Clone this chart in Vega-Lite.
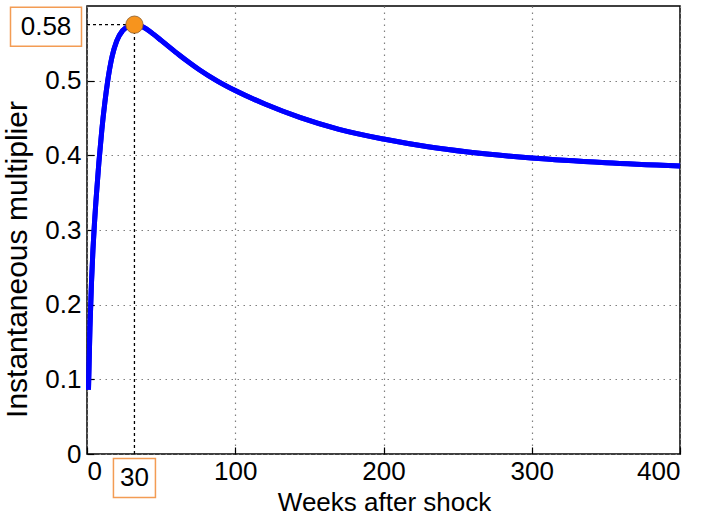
{
  "$schema": "https://vega.github.io/schema/vega-lite/v6.json",
  "width": 593,
  "height": 448,
  "autosize": "none",
  "padding": {"left": 87, "top": 6, "right": 27, "bottom": 60},
  "background": "white",
  "config": {
    "font": "Liberation Sans",
    "view": {"stroke": "black", "strokeWidth": 1.5},
    "axis": {
      "labelFont": "Liberation Sans",
      "titleFont": "Liberation Sans",
      "labelColor": "black",
      "titleColor": "black",
      "titleFontWeight": "normal",
      "labelFontSize": 26,
      "titleFontSize": 27,
      "domain": false,
      "tickColor": "black",
      "tickSize": -7,
      "tickWidth": 1.2,
      "gridColor": "#808080",
      "gridDash": [1.5, 4.5],
      "gridWidth": 1.2,
      "gridOpacity": 1
    }
  },
  "datasets": {
    "curve": [
      {"weeks": 1, "mult": 0.086},
      {"weeks": 2, "mult": 0.17},
      {"weeks": 3, "mult": 0.228},
      {"weeks": 4, "mult": 0.273},
      {"weeks": 5, "mult": 0.308},
      {"weeks": 6, "mult": 0.338},
      {"weeks": 8, "mult": 0.39},
      {"weeks": 10, "mult": 0.434},
      {"weeks": 12, "mult": 0.47},
      {"weeks": 14, "mult": 0.5},
      {"weeks": 17, "mult": 0.533},
      {"weeks": 20, "mult": 0.553},
      {"weeks": 24, "mult": 0.567},
      {"weeks": 28, "mult": 0.573},
      {"weeks": 32, "mult": 0.575},
      {"weeks": 36, "mult": 0.5735},
      {"weeks": 40, "mult": 0.5695},
      {"weeks": 45, "mult": 0.562},
      {"weeks": 50, "mult": 0.554},
      {"weeks": 56, "mult": 0.5443},
      {"weeks": 62, "mult": 0.5348},
      {"weeks": 68, "mult": 0.5257},
      {"weeks": 76, "mult": 0.5143},
      {"weeks": 88, "mult": 0.4994},
      {"weeks": 100, "mult": 0.4867},
      {"weeks": 120, "mult": 0.4687},
      {"weeks": 144, "mult": 0.4505},
      {"weeks": 170, "mult": 0.4348},
      {"weeks": 200, "mult": 0.4218},
      {"weeks": 230, "mult": 0.4115},
      {"weeks": 257, "mult": 0.4045},
      {"weeks": 300, "mult": 0.3965},
      {"weeks": 350, "mult": 0.3902},
      {"weeks": 400, "mult": 0.3858}
    ],
    "peak": [
      {"weeks": 32, "mult": 0.575, "zero": 0, "weekLabel": "30", "multLabel": "0.58"}
    ]
  },
  "layer": [
    {
      "data": {"name": "curve"},
      "mark": {"type": "line", "color": "#0000ff", "strokeWidth": 5, "interpolate": "monotone"},
      "encoding": {
        "x": {
          "field": "weeks", "type": "quantitative",
          "scale": {"domain": [0, 400]},
          "axis": {
            "orient": "bottom",
            "values": [0, 100, 200, 300, 400],
            "title": "Weeks after shock",
            "labelPadding": 11,
            "titleX": 297, "titleY": 56,
            "titleAlign": "center",
            "titleBaseline": "alphabetic",
            "titleFontSize": 26
          }
        },
        "y": {
          "field": "mult", "type": "quantitative",
          "scale": {"domain": [0, 0.6]},
          "axis": {
            "orient": "left",
            "values": [0, 0.1, 0.2, 0.3, 0.4, 0.5],
            "format": ".1~f",
            "title": "Instantaneous multiplier",
            "labelPadding": 13,
            "titleX": -61, "titleY": 253,
            "titleAngle": -90,
            "titleAlign": "center",
            "titleBaseline": "alphabetic",
            "titleFontSize": 30
          }
        }
      }
    },
    {
      "data": {"name": "peak"},
      "mark": {"type": "rule", "color": "black", "strokeWidth": 1.3, "strokeDash": [3, 3]},
      "encoding": {
        "x": {"field": "zero", "type": "quantitative"},
        "x2": {"field": "weeks"},
        "y": {"field": "mult", "type": "quantitative"}
      }
    },
    {
      "data": {"name": "peak"},
      "mark": {"type": "rule", "color": "black", "strokeWidth": 1.3, "strokeDash": [3, 3]},
      "encoding": {
        "x": {"field": "weeks", "type": "quantitative"},
        "y": {"field": "zero", "type": "quantitative"},
        "y2": {"field": "mult"}
      }
    },
    {
      "data": {"name": "curve"},
      "mark": {"type": "line", "color": "#0000ff", "strokeWidth": 5, "interpolate": "monotone"},
      "encoding": {
        "x": {"field": "weeks", "type": "quantitative"},
        "y": {"field": "mult", "type": "quantitative"}
      }
    },
    {
      "data": {"name": "peak"},
      "mark": {"type": "point", "filled": true, "size": 300, "fill": "#f7941d", "stroke": "#8a5a28", "strokeWidth": 0.8, "opacity": 1},
      "encoding": {
        "x": {"field": "weeks", "type": "quantitative"},
        "y": {"field": "mult", "type": "quantitative"}
      }
    },
    {
      "data": {"name": "peak"},
      "mark": {"type": "point", "shape": "M-1,-0.55H1V0.55H-1Z", "size": 5041, "filled": true, "fill": "white", "stroke": "#f39c54", "strokeWidth": 1.5, "opacity": 1, "xOffset": -41, "yOffset": 2},
      "encoding": {
        "x": {"field": "zero", "type": "quantitative"},
        "y": {"field": "mult", "type": "quantitative"}
      }
    },
    {
      "data": {"name": "peak"},
      "mark": {"type": "text", "fontSize": 26, "color": "black", "align": "center", "baseline": "middle", "dx": -41, "dy": 2},
      "encoding": {
        "x": {"field": "zero", "type": "quantitative"},
        "y": {"field": "mult", "type": "quantitative"},
        "text": {"field": "multLabel"}
      }
    },
    {
      "data": {"name": "peak"},
      "mark": {"type": "point", "shape": "M-1,-0.93H1V0.93H-1Z", "size": 1764, "filled": true, "fill": "white", "stroke": "#f39c54", "strokeWidth": 1.5, "opacity": 1, "yOffset": 24},
      "encoding": {
        "x": {"field": "weeks", "type": "quantitative"},
        "y": {"field": "zero", "type": "quantitative"}
      }
    },
    {
      "data": {"name": "peak"},
      "mark": {"type": "text", "fontSize": 26, "color": "black", "align": "center", "baseline": "middle", "dy": 24},
      "encoding": {
        "x": {"field": "weeks", "type": "quantitative"},
        "y": {"field": "zero", "type": "quantitative"},
        "text": {"field": "weekLabel"}
      }
    }
  ]
}
